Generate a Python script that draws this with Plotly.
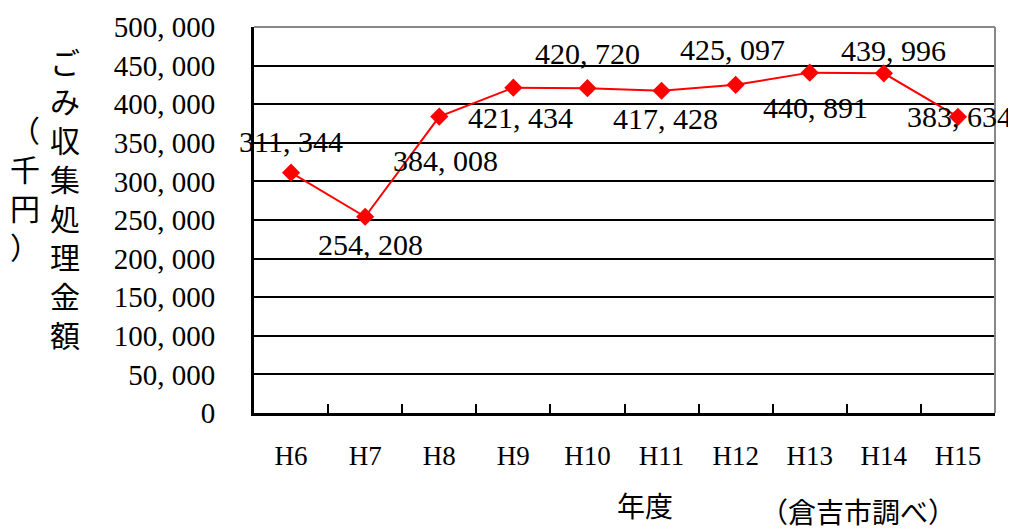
import plotly.graph_objects as go

categories = ["H6", "H7", "H8", "H9", "H10", "H11", "H12", "H13", "H14", "H15"]
values = [311344, 254208, 384008, 421434, 420720, 417428, 425097, 440891, 439996, 383634]
y_tickvals = [0, 50000, 100000, 150000, 200000, 250000, 300000, 350000, 400000, 450000, 500000]
y_ticktext = ["0", "50, 000", "100, 000", "150, 000", "200, 000", "250, 000",
              "300, 000", "350, 000", "400, 000", "450, 000", "500, 000"]
y_title_main = "ごみ収集処理金額"
y_title_unit = "（千円）"
x_title = "年度"
source_note = "（倉吉市調べ）"

# label offsets (pixels) for each data label
label_shift = [(0, 31), (5, -28), (6, -44), (7, -30), (0, 35),
               (4, -28), (-3, 35), (6, -35), (10, 23), (2, 0)]

SERIF = "Liberation Serif, Noto Sans CJK JP, serif"

# page body has an 8px margin: work in window pixels and convert
OFF = 8
W, H = 1016, 530
PL, PR, PT, PB = 254, 995, 27, 413   # plot area in window pixels
L = PL - OFF
T = PT - OFF
R = W - (PR - OFF)
B = H - (PB - OFF)
pw, ph = PR - PL, PB - PT

def px_to_paper(wx, wy):
    return (wx - PL) / pw, (PB - wy) / ph

fig = go.Figure()
fig.add_trace(go.Scatter(
    x=categories, y=values, mode="lines+markers",
    line=dict(color="#ff0000", width=2),
    marker=dict(symbol="diamond", size=14, color="#ff0000"),
    cliponaxis=False, showlegend=False,
))

def fmt(v):
    return f"{v:,}".replace(",", ", ")

annotations = []
for c, v, (dx, dy) in zip(categories, values, label_shift):
    annotations.append(dict(x=c, y=v, xref="x", yref="y", text=fmt(v),
                            showarrow=False, xshift=dx, yshift=dy,
                            xanchor="center", yanchor="middle",
                            font=dict(family=SERIF, size=30, color="black")))

def add_px_text(text, wx, wy, size):
    x, y = px_to_paper(wx, wy)
    annotations.append(dict(x=x, y=y, xref="paper", yref="paper", text=text,
                            showarrow=False, xanchor="center", yanchor="middle",
                            font=dict(family=SERIF, size=size, color="black")))

add_px_text("<br>".join(y_title_main), 65, 200, 30)
add_px_text("<br>".join(y_title_unit), 25, 190, 30)
add_px_text(x_title, 645, 507, 28)
add_px_text(source_note, 858, 513, 28)

fig.update_layout(
    width=W, height=H,
    margin=dict(l=L, r=R, t=T, b=B, autoexpand=False),
    paper_bgcolor="white", plot_bgcolor="white",
    annotations=annotations,
    xaxis=dict(type="category", tickson="boundaries", ticks="inside", ticklen=9,
               tickwidth=2, tickcolor="black", showgrid=False,
               showline=True, linecolor="black", linewidth=3,
               tickfont=dict(family=SERIF, size=27, color="black"),
               ticklabelstandoff=17, range=[-0.5, 9.5], automargin=False),
    yaxis=dict(range=[0, 500000], tickvals=y_tickvals, ticktext=y_ticktext,
               showgrid=True, gridcolor="black", gridwidth=2,
               showline=True, linecolor="black", linewidth=3,
               ticks="", zeroline=False,
               tickfont=dict(family=SERIF, size=29, color="black"),
               ticklabelstandoff=30, automargin=False),
    shapes=[dict(type="line", xref="paper", yref="paper", x0=0, x1=1, y0=1, y1=1,
                 line=dict(color="#888888", width=2)),
            dict(type="line", xref="paper", yref="paper", x0=1, x1=1, y0=0, y1=1,
                 line=dict(color="#888888", width=2))],
)

fig.write_html("out.html")
